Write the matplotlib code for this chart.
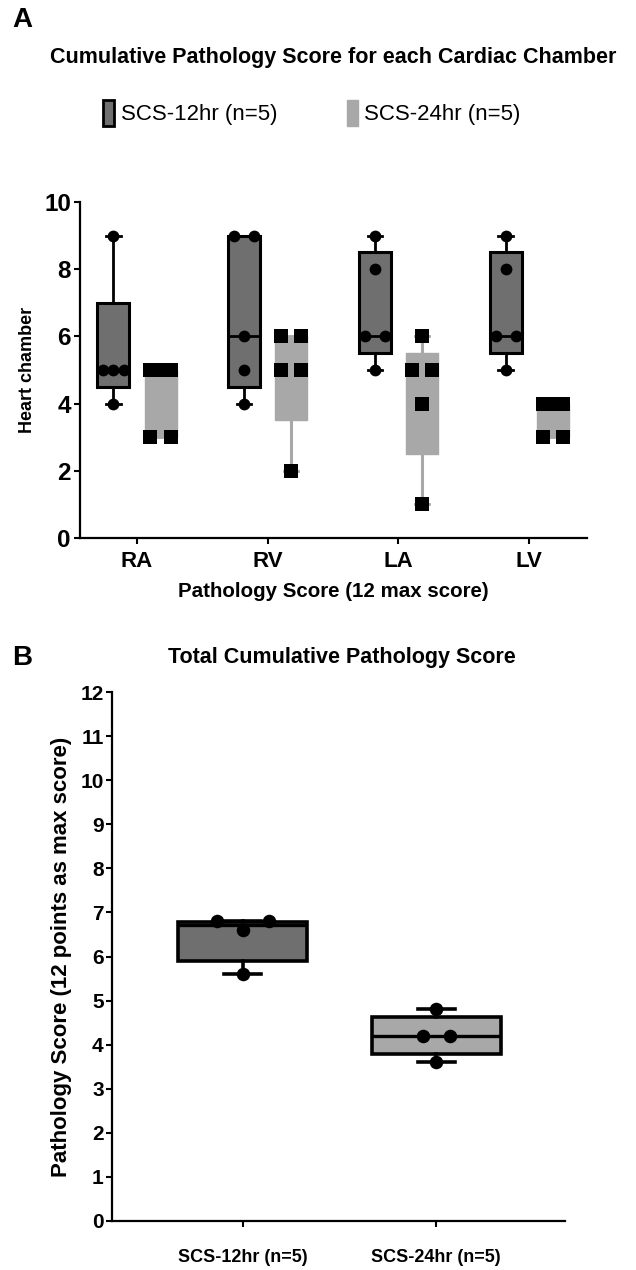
import numpy as np
import matplotlib
matplotlib.use("Agg")
import matplotlib.pyplot as plt
from matplotlib.patches import Patch

plt.rcParams['font.family'] = ['Liberation Sans', 'DejaVu Sans']

# ---------------- data ----------------
chambers = ['RA', 'RV', 'LA', 'LV']
scs12 = [[9, 5, 5, 5, 4],   # RA
         [9, 9, 6, 5, 4],   # RV
         [9, 8, 6, 6, 5],   # LA
         [9, 8, 6, 6, 5]]   # LV
scs24 = [[5, 5, 5, 3, 3],
         [6, 6, 5, 5, 2],
         [6, 5, 5, 4, 1],
         [4, 4, 4, 3, 3]]

groups_b = ['SCS-12hr (n=5)', 'SCS-24hr (n=5)']
total_points = [[6.8, 6.6, 6.8, 5.6],
                [4.8, 4.2, 4.2, 3.6]]
total_min = [5.6, 3.6]
total_q1 = [5.9, 3.78]
total_med = [6.72, 4.2]
total_q3 = [6.78, 4.62]
total_max = [6.8, 4.8]

DARK = '#6f6f6f'
LIGHT = '#a8a8a8'


def prism_stats(vals):
    # quartiles like GraphPad (n+1 method)
    v = np.asarray(vals, float)
    return dict(whislo=v.min(), q1=np.percentile(v, 25, method='weibull'),
                med=np.median(v), q3=np.percentile(v, 75, method='weibull'),
                whishi=v.max(), fliers=[])


def spread(vals, step):
    # put equal values side by side
    vals = np.asarray(vals, float)
    off = np.zeros(len(vals))
    for u in np.unique(vals):
        idx = np.where(vals == u)[0]
        if len(idx) > 1:
            off[idx] = np.linspace(-step, step, len(idx))
    return off


fig = plt.figure(figsize=(6.36, 12.7), dpi=100)

# ---------------- panel A ----------------
ax = fig.add_axes([80 / 636, 1 - 538 / 1270, 507 / 636, 336 / 1270])
xpos = np.arange(len(chambers))
dx = 0.18
w = 0.245

ax.bxp([prism_stats(v) for v in scs12], positions=xpos - dx, widths=w,
       capwidths=0.11, showfliers=False, patch_artist=True,
       boxprops=dict(facecolor=DARK, edgecolor='black', linewidth=2.2),
       whiskerprops=dict(color='black', linewidth=2),
       capprops=dict(color='black', linewidth=2),
       medianprops=dict(color='black', linewidth=2))
ax.bxp([prism_stats(v) for v in scs24], positions=xpos + dx, widths=w,
       capwidths=0.11, showfliers=False, patch_artist=True,
       boxprops=dict(facecolor=LIGHT, edgecolor=LIGHT, linewidth=1),
       whiskerprops=dict(color=LIGHT, linewidth=2.2),
       capprops=dict(color=LIGHT, linewidth=2),
       medianprops=dict(color=LIGHT, linewidth=1))

for i in range(len(chambers)):
    ax.scatter(xpos[i] - dx + spread(scs12[i], 0.077), scs12[i], s=72,
               marker='o', color='black', zorder=5, linewidths=0)
    ax.scatter(xpos[i] + dx + spread(scs24[i], 0.077), scs24[i], s=90,
               marker='s', color='black', zorder=5, linewidths=0)

ax.set_xlim(-0.436, 3.443)
ax.set_ylim(0, 10)
ax.set_yticks([0, 2, 4, 6, 8, 10])
ax.set_xticks(xpos)
ax.set_xticklabels(chambers, fontsize=16, fontweight='bold')
for t in ax.get_yticklabels():
    t.set_fontsize(17.5)
    t.set_fontweight('bold')
ax.tick_params(axis='both', direction='out', length=4.5, width=1.5)
ax.tick_params(axis='x', pad=5)
ax.tick_params(axis='y', pad=2)
for sp in ['top', 'right']:
    ax.spines[sp].set_visible(False)
for sp in ['left', 'bottom']:
    ax.spines[sp].set_linewidth(1.6)
ax.set_ylabel('Heart chamber', fontsize=13, fontweight='bold', labelpad=6)
ax.set_xlabel('Pathology Score (12 max score)', fontsize=14.8,
              fontweight='bold', labelpad=7)

fig.text(12 / 636, 1 - 20 / 1270, 'A', fontsize=20, fontweight='bold',
         va='center', ha='left')
fig.text(333 / 636, 1 - 57 / 1270,
         'Cumulative Pathology Score for each Cardiac Chamber',
         fontsize=15.5, fontweight='bold', ha='center', va='center')

handles = [Patch(facecolor=DARK, edgecolor='black', linewidth=2),
           Patch(facecolor=LIGHT, edgecolor=LIGHT)]
fig.legend(handles, ['SCS-12hr (n=5)', 'SCS-24hr (n=5)'], ncol=2,
           loc='center', bbox_to_anchor=(312 / 636, 1 - 113 / 1270),
           frameon=False, fontsize=16, handlelength=0.5, handleheight=1.4,
           handletextpad=0.3, columnspacing=3.1)

# ---------------- panel B ----------------
bx = fig.add_axes([112 / 636, 1 - 1221 / 1270, 453 / 636, 529 / 1270])
bpos = np.arange(len(groups_b))
stats_b = [dict(whislo=total_min[i], q1=total_q1[i], med=total_med[i],
                q3=total_q3[i], whishi=total_max[i], fliers=[])
           for i in range(len(groups_b))]
bp = bx.bxp(stats_b, positions=bpos, widths=0.665, capwidths=0.19,
            showfliers=False, patch_artist=True,
            boxprops=dict(edgecolor='black', linewidth=2.6),
            whiskerprops=dict(color='black', linewidth=2.6),
            capprops=dict(color='black', linewidth=2.6),
            medianprops=dict(color='black', linewidth=2.4))
for patch, col in zip(bp['boxes'], [DARK, LIGHT]):
    patch.set_facecolor(col)

steps_b = [0.134, 0.07]
for i in range(len(groups_b)):
    bx.scatter(bpos[i] + spread(total_points[i], steps_b[i]), total_points[i],
               s=95, marker='o', color='black', zorder=5, linewidths=0)

bx.set_xlim(-0.675, 1.665)
bx.set_ylim(0, 12)
bx.set_yticks(range(13))
bx.set_xticks(bpos)
bx.set_xticklabels(groups_b, fontsize=13, fontweight='bold')
for t in bx.get_yticklabels():
    t.set_fontsize(15)
    t.set_fontweight('bold')
bx.tick_params(axis='both', direction='out', length=4, width=1.5)
bx.tick_params(axis='x', pad=16)
bx.tick_params(axis='y', pad=2)
for sp in ['top', 'right']:
    bx.spines[sp].set_visible(False)
for sp in ['left', 'bottom']:
    bx.spines[sp].set_linewidth(1.6)
bx.set_ylabel('Pathology Score (12 points as max score)', fontsize=16,
              fontweight='bold', labelpad=6)

fig.text(12 / 636, 1 - 658 / 1270, 'B', fontsize=20, fontweight='bold',
         va='center', ha='left')
fig.text(342 / 636, 1 - 657 / 1270, 'Total Cumulative Pathology Score',
         fontsize=15.5, fontweight='bold', ha='center', va='center')

fig.savefig('out.png', dpi=100)
